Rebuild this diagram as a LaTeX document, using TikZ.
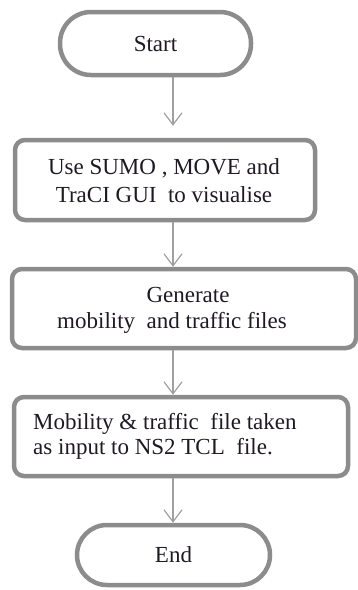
\documentclass[tikz,border=0pt]{standalone}
\usepackage{fontspec}
\setmainfont{Liberation Serif}
\usetikzlibrary{arrows.meta}
\definecolor{bord}{RGB}{140,140,140}
\definecolor{arrc}{RGB}{160,160,160}
\definecolor{ink}{RGB}{30,25,35}
\begin{document}
\begin{tikzpicture}[x=1pt,y=-1pt,
  box/.style={draw=bord, line width=4.5pt, rounded corners=10pt, inner sep=0pt},
  term/.style={draw=bord, line width=4.5pt, inner sep=0pt, text=ink, font=\fontsize{23}{27}\selectfont},
  txt/.style={inner sep=0pt, text=ink},
  arr/.style={draw=arrc, line width=1.2pt, -{Straight Barb[length=12pt,width=18pt,line width=1.2pt]}}]
\useasboundingbox (0,0) rectangle (358,590);
\node[term, rounded corners=31pt, minimum width=191pt, minimum height=63pt] (start) at (155.5,43.5) {Start};
\node[box, minimum width=300pt, minimum height=80pt] (b2) at (165,180) {};
\node[box, minimum width=344pt, minimum height=79pt] (b3) at (184,308.5) {};
\node[box, minimum width=334pt, minimum height=79pt] (b4) at (181,436.5) {};
\node[term, rounded corners=30pt, minimum width=193pt, minimum height=60pt] (end) at (173.5,555) {End};
\node[txt, align=center, font=\fontsize{23}{28}\selectfont] (t2) at (164,181) {Use SUMO , MOVE and\\TraCI GUI\ \ to visualise};
\node[txt, align=center, font=\fontsize{23}{26}\selectfont] (t3) at (172,310) {\hspace*{32pt}Generate\\mobility\ \ and traffic files};
\node[txt, align=left, anchor=west, font=\fontsize{23}{25}\selectfont] (t4) at (33,436) {Mobility \& traffic\ \ file taken\\as input to NS2 TCL\ \ file.};
\coordinate (ax) at (173,0);
\draw[arr, shorten >=12pt] (start.south -| ax) -- (b2.north -| ax);
\draw[arr] (b2.south -| ax) -- (b3.north -| ax);
\draw[arr] (b3.south -| ax) -- (b4.north -| ax);
\draw[arr] (b4.south -| ax) -- (end.north -| ax);
\end{tikzpicture}
\end{document}
